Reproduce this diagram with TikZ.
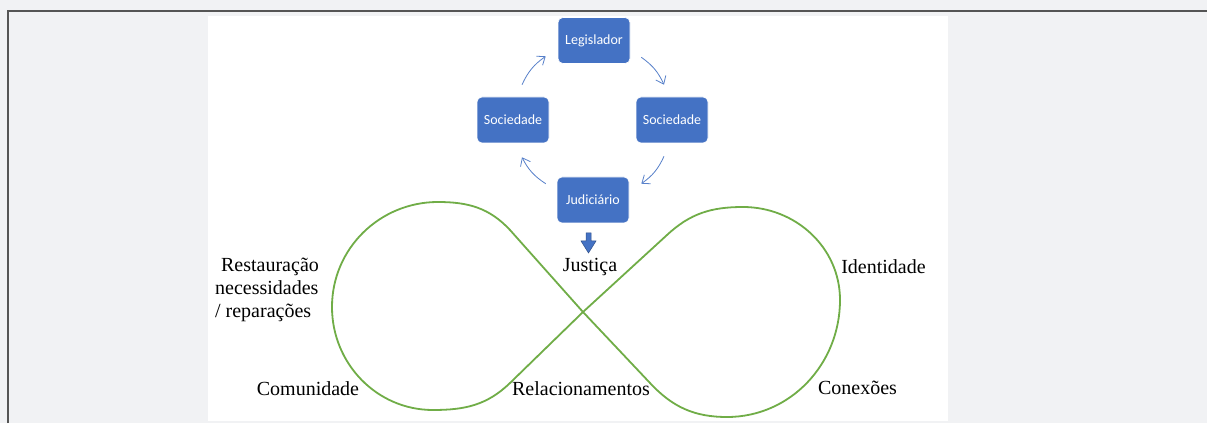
\documentclass[tikz,border=0pt]{standalone}
\usepackage{fontspec}
\setmainfont{Liberation Serif}
\newfontfamily\boxfont{Carlito}
\usetikzlibrary{arrows.meta}
\usetikzlibrary{calc}

\definecolor{boxblue}{HTML}{4472C4}
\definecolor{loopgreen}{HTML}{70AD47}
\definecolor{pagegray}{HTML}{F1F2F4}
\definecolor{framegray}{HTML}{555555}

\tikzset{
    cyclebox/.style={draw=white, line width=0.6pt, fill=boxblue, rounded corners=5pt,
        minimum width=72pt, minimum height=46pt, inner sep=0pt,
        font=\boxfont\fontsize{14}{16}\selectfont, text=white},
    cyclearrow/.style={boxblue!90!white, line width=0.8pt, bend left=15,
        -{Straight Barb[length=7pt,width=11pt]}},
    label/.style={font=\fontsize{20}{23}\selectfont, inner sep=0pt}
}

\begin{document}
\begin{tikzpicture}[x=1pt, y=1pt]
    % Page
    \fill[pagegray] (0,0) rectangle (1207,423);
    \useasboundingbox (0,0) rectangle (1207,423);
    \draw[framegray, line width=1.5pt] (8,0) -- (8,412) -- (1207,412);
    \fill[white] (208,2) rectangle (948,407);
    % Boxes
    \node[cyclebox] (leg) at (594,382.5) {Legislador};
    \node[cyclebox] (socL) at (513,303) {Sociedade};
    \node[cyclebox] (socR) at (672,303) {Sociedade};
    \node[cyclebox] (jud) at (593,223) {Judiciário};
    % Arrows
    \draw[cyclearrow] ($(leg.south east)+(11,6.5)$) to ($(socR.north)+(-8,12)$);
    \draw[cyclearrow] ($(socR.south)+(-8,-13)$) to ($(jud.north east)+(12,-7)$);
    \draw[cyclearrow] ($(jud.north west)+(-11,-7)$) to ($(socL.south)+(9,-14)$);
    \draw[cyclearrow] ($(socL.north)+(9,12)$) to ($(leg.south west)+(-12,7.5)$);
    % Down arrow
    \draw[fill=boxblue, draw=boxblue!70!black, line width=0.5pt, shift={(588.5,180)}]
        (-2.5,10) -- (2.5,10) -- (2.5,2) -- (7.5,2) -- (0,-10) -- (-7.5,2) -- (-2.5,2) -- cycle;
    % Infinity
    \draw[loopgreen, line width=1.8pt] (583,111) -- (667,188) to[out=43,in=180] (743,216)
        to[out=0,in=90] (840,123) to[out=-90,in=0] (727,6) to[out=180,in=-47] (650,40)
        -- (583,111) -- (510,193) to[out=133,in=0] (438,221) to[out=180,in=90] (332,116)
        to[out=-90,in=180] (433,13) to[out=0,in=-136] (510,40) -- cycle;
    % Labels
    \node[label, align=left] (rest) at (267,133) {\hspace*{6pt}Restauração\\necessidades\\/ reparações};
    \node[label] (just) at (590,156) {Justiça};
    \node[label] (ident) at (883.5,156) {Identidade};
    \node[label] (comun) at (308,34) {Comunidade};
    \node[label] (relac) at (581,34) {Relacionamentos};
    \node[label] (conex) at (857.5,35) {Conexões};
\end{tikzpicture}
\end{document}
